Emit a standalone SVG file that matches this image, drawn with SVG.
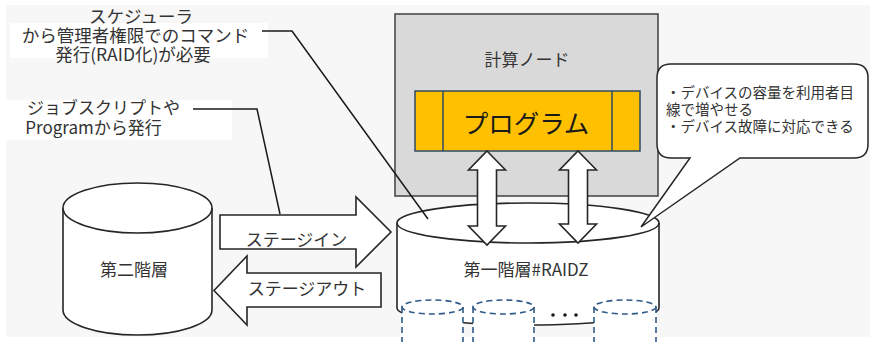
<svg xmlns="http://www.w3.org/2000/svg" width="870" height="342" viewBox="0 0 870 342">
<style>
.t{font-family:"Noto Sans CJK JP","Noto Sans",sans-serif;fill:#333333;font-size:17px}
.s14{font-size:14.5px}
.s25{font-size:25.5px;fill:#1a1a1a}
.s17{font-size:17.5px}
.ln{fill:none;stroke:#1a1a1a;stroke-width:1.5}
.sh{fill:#ffffff;stroke:#262626;stroke-width:1.6}
.ds{fill:#ffffff;stroke:#2f5a88;stroke-width:1.6;stroke-dasharray:6 4}
</style>
<rect x="0" y="0" width="870" height="342" fill="#ffffff"/>
<rect x="6" y="5" width="864" height="332" fill="#f7f7f7"/>
<rect x="10" y="23" width="258" height="35" fill="#ffffff"/>
<rect x="0" y="100" width="232" height="40" fill="#ffffff"/>

<g id="note-scheduler">
<text class="t s17" x="141" y="23" text-anchor="middle">スケジューラ</text>
<text class="t s17" x="135.5" y="42" text-anchor="middle">から管理者権限でのコマンド</text>
<text class="t s17" x="133" y="61" text-anchor="middle">発行(RAID化)が必要</text>
</g>
<g id="note-job">
<text class="t" x="103.5" y="114" text-anchor="middle">ジョブスクリプトや</text>
<text class="t" x="93.5" y="134" text-anchor="middle">Programから発行</text>
</g>

<g id="compute-node">
<rect x="395" y="14" width="263" height="182" fill="#d9d9d9" stroke="#404040" stroke-width="1.5"/>
<text class="t" x="527" y="66" text-anchor="middle">計算ノード</text>
</g>
<g id="program">
<rect x="415" y="91" width="225" height="60" fill="#ffc000" stroke="#2f4a66" stroke-width="1.5"/>
<line x1="443" y1="91" x2="443" y2="151" stroke="#2f4a66" stroke-width="1.5"/>
<line x1="612" y1="91" x2="612" y2="151" stroke="#2f4a66" stroke-width="1.5"/>
<text class="t s25" x="526" y="133" text-anchor="middle">プログラム</text>
</g>

<g id="tier2">
<path class="sh" d="M63,208 V310 A74.5,25 0 0 0 212,310 V208"/>
<ellipse class="sh" cx="137.5" cy="208" rx="74.5" ry="25"/>
<text class="t" x="134" y="276" text-anchor="middle">第二階層</text>
</g>

<g id="tier1">
<path class="sh" d="M397,223 V308 A131,17 0 0 0 659,308 V223"/>
<ellipse class="sh" cx="528" cy="223" rx="131" ry="20"/>
<text class="t" x="526" y="276" text-anchor="middle">第一階層#RAIDZ</text>
</g>

<g id="device1">
<rect x="402" y="307" width="61" height="40" fill="#ffffff"/>
<path class="ds" d="M402,307 V347 M463,307 V347"/>
<ellipse class="ds" cx="432.5" cy="307" rx="30.5" ry="7"/>
</g>
<g id="device2">
<rect x="473" y="307" width="61" height="40" fill="#ffffff"/>
<path class="ds" d="M473,307 V347 M534,307 V347"/>
<ellipse class="ds" cx="503.5" cy="307" rx="30.5" ry="7"/>
</g>
<g id="device3">
<rect x="594" y="307" width="62" height="40" fill="#ffffff"/>
<path class="ds" d="M594,307 V347 M656,307 V347"/>
<ellipse class="ds" cx="625" cy="307" rx="31" ry="7"/>
</g>
<g id="dots" fill="#1a1a1a">
<circle cx="553" cy="315" r="1.8"/>
<circle cx="565" cy="315" r="1.8"/>
<circle cx="576" cy="315" r="1.8"/>
</g>

<g id="connectors">
<polygon class="sh" points="220,215 356,215 356,197 391,232 356,267 356,249 220,249"/>
<text class="t" x="296.5" y="246" text-anchor="middle">ステージイン</text>
<polygon class="sh" points="381,273 247,273 247,256 214,290.5 247,325 247,307 381,307"/>
<text class="t" x="307" y="295" text-anchor="middle">ステージアウト</text>
<polygon class="sh" points="487,151 505.5,170 496.5,170 496.5,226 505.5,226 487,245 468.5,226 477.5,226 477.5,170 468.5,170"/>
<polygon class="sh" points="578,151 596.5,170 587.5,170 587.5,224 596.5,224 578,243 559.5,224 568.5,224 568.5,170 559.5,170"/>
<polyline class="ln" points="262,31 292,31 428,219"/>
<polyline class="ln" points="193,109 257,109 280,214"/>
</g>

<g id="callout">
<path d="M671,64 H854 Q868,64 868,78 V144 Q868,158 854,158 H740 L641,227 L690,158 H671 Q657,158 657,144 V78 Q657,64 671,64 Z" fill="#ffffff" stroke="#262626" stroke-width="1.5"/>
<text class="t s14" x="666" y="98">・デバイスの容量を利用者目</text>
<text class="t s14" x="666" y="115">線で増やせる</text>
<text class="t s14" x="666" y="132">・デバイス故障に対応できる</text>
</g>
</svg>
